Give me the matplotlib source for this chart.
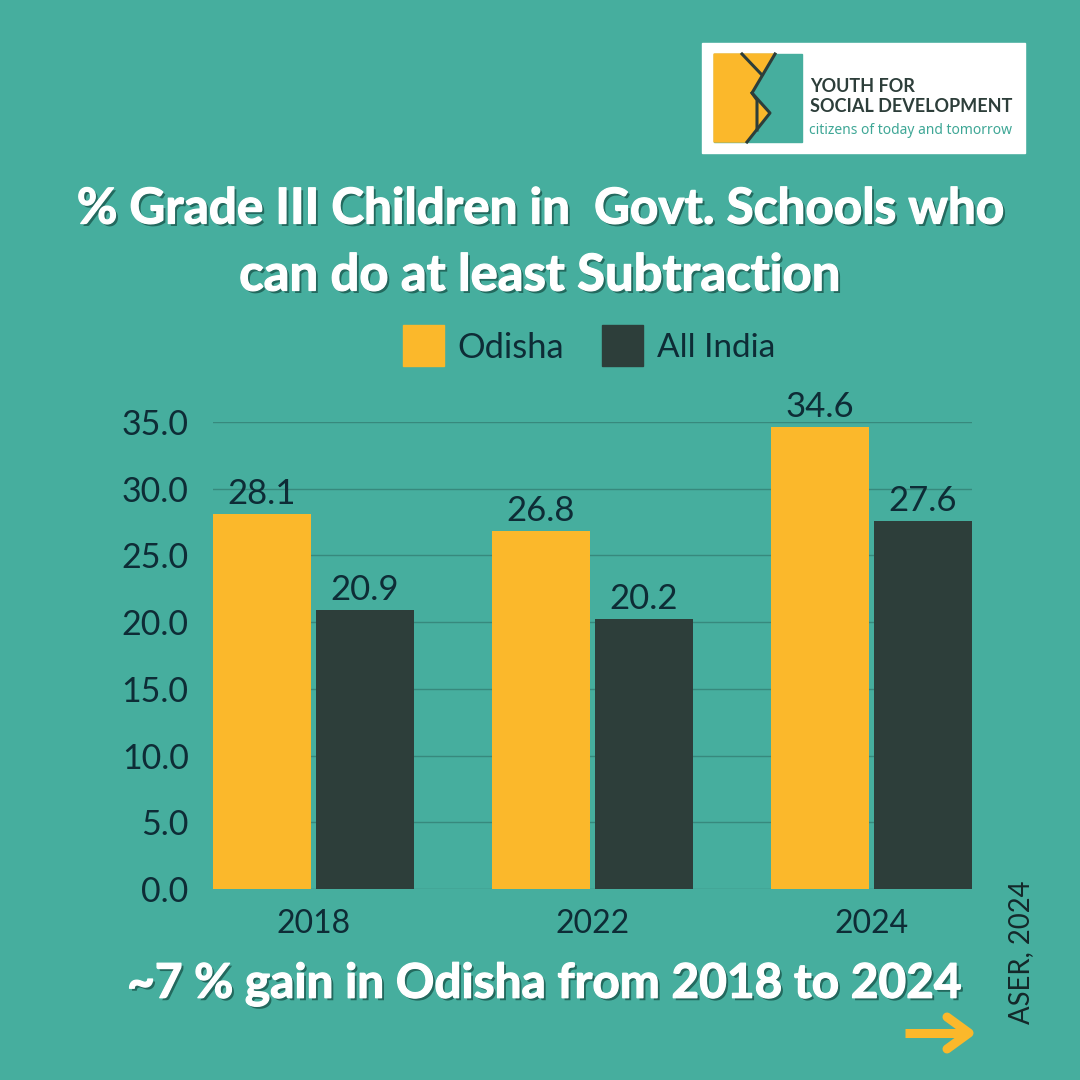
import matplotlib
matplotlib.use('Agg')
import matplotlib.pyplot as plt
import matplotlib.patheffects as pe
from matplotlib.patches import Rectangle, Polygon
import numpy as np

#datos del grafico
years = ['2018', '2022', '2024']
odisha = [28.1, 26.8, 34.6]
india = [20.9, 20.2, 27.6]
y_ticks = [0, 5, 10, 15, 20, 25, 30, 35]

BG = '#46AE9E'
YELLOW = '#FBB82B'
DARK = '#2D3E3A'
INK = '#0E2C36'

plt.rcParams['font.family'] = ['Lato', 'DejaVu Sans']

fig = plt.figure(figsize=(10.8, 10.8), dpi=100, facecolor=BG)

#capa en pixeles para logo y textos
over = fig.add_axes([0, 0, 1, 1], zorder=5)
over.set_xlim(0, 1080)
over.set_ylim(1080, 0)
over.axis('off')

#ejes principales
ax = fig.add_axes([213/1080, (1080-889)/1080, (972-213)/1080, (889-422)/1080], facecolor=BG)
x = np.arange(len(years))
w = 0.351
off = 0.1846
b1 = ax.bar(x-off, odisha, w, color=YELLOW, zorder=3)
b2 = ax.bar(x+off, india, w, color=DARK, zorder=3)
ax.set_xlim(-0.36, 2.36)
ax.set_ylim(0, 35)
ax.set_yticks(y_ticks)
ax.set_yticklabels(['%.1f' % v for v in y_ticks], fontsize=24.5, color=INK)
ax.set_xticks(x)
ax.set_xticklabels(years, fontsize=23, color=INK)
ax.tick_params(length=0)
ax.tick_params(axis='y', pad=17.5)
ax.tick_params(axis='x', pad=14.5)
ax.grid(axis='y', color='#37897D', lw=1, zorder=0)
for s in ax.spines.values():
    s.set_visible(False)

for bars, vals in ((b1, odisha), (b2, india)):
    for b, v in zip(bars, vals):
        ax.annotate('%.1f' % v, (b.get_x()+b.get_width()/2, v), xytext=(0, 3),
                    textcoords='offset points', ha='center', va='bottom',
                    fontsize=25, color=INK, annotation_clip=False)

#texto blanco con sombra
sombra = [pe.SimplePatchShadow(offset=(1.8, -1.8), shadow_rgbFace='#23695E', alpha=1.0),
          pe.Stroke(linewidth=0.9, foreground='white'),
          pe.Normal()]


def titulo(xp, yp, s, size):
    over.text(xp, yp, s, ha='center', va='center', fontsize=size, fontweight='bold',
              color='white', path_effects=sombra)


titulo(540, 209, '% Grade III Children in  Govt. Schools who', 35.6)
titulo(540, 276, 'can do at least Subtraction', 36.6)
titulo(544, 984, '~7 % gain in Odisha from 2018 to 2024', 34.4)

#leyenda
over.add_patch(Rectangle((403, 325), 41, 41, color=YELLOW))
over.text(457, 348, 'Odisha', fontsize=24.8, color=INK, va='center')
over.add_patch(Rectangle((602, 325), 41, 41, color=DARK))
over.text(657, 348, 'All India', fontsize=24, color=INK, va='center')

#fuente y flecha
over.text(1021, 952, 'ASER, 2024', rotation=90, ha='center', va='center', fontsize=19.8, color='#14282A')
over.plot([905, 966], [1033, 1033], color=YELLOW, lw=6.5, solid_capstyle='butt')
over.plot([947, 969, 947], [1017, 1033, 1049], color=YELLOW, lw=6.5, solid_capstyle='round', solid_joinstyle='round')

#logo
over.add_patch(Rectangle((702, 43), 323, 110, color='white'))
over.add_patch(Rectangle((714, 54), 88, 88, color='#46AE9E'))
over.add_patch(Polygon([(714, 54), (775, 54), (752, 93), (770, 113), (747, 142), (714, 142)], color=YELLOW))
over.plot([775, 752, 770, 747], [54, 93, 113, 142], color=DARK, lw=2.2)
over.plot([742, 762], [54, 75], color=DARK, lw=2.2)
over.plot([752, 757, 757], [93, 100, 130], color=DARK, lw=2.2)
over.text(810, 87, 'YOUTH FOR', fontsize=13, fontweight='bold', color=DARK, va='center')
over.text(810, 107, 'SOCIAL DEVELOPMENT', fontsize=13, fontweight='bold', color=DARK, va='center')
over.text(809, 130, 'citizens of today and tomorrow', fontsize=10, color='#3FA796', va='center',
          family=['Noto Sans', 'DejaVu Sans'])

fig.savefig('out.png', dpi=100, facecolor=BG)
